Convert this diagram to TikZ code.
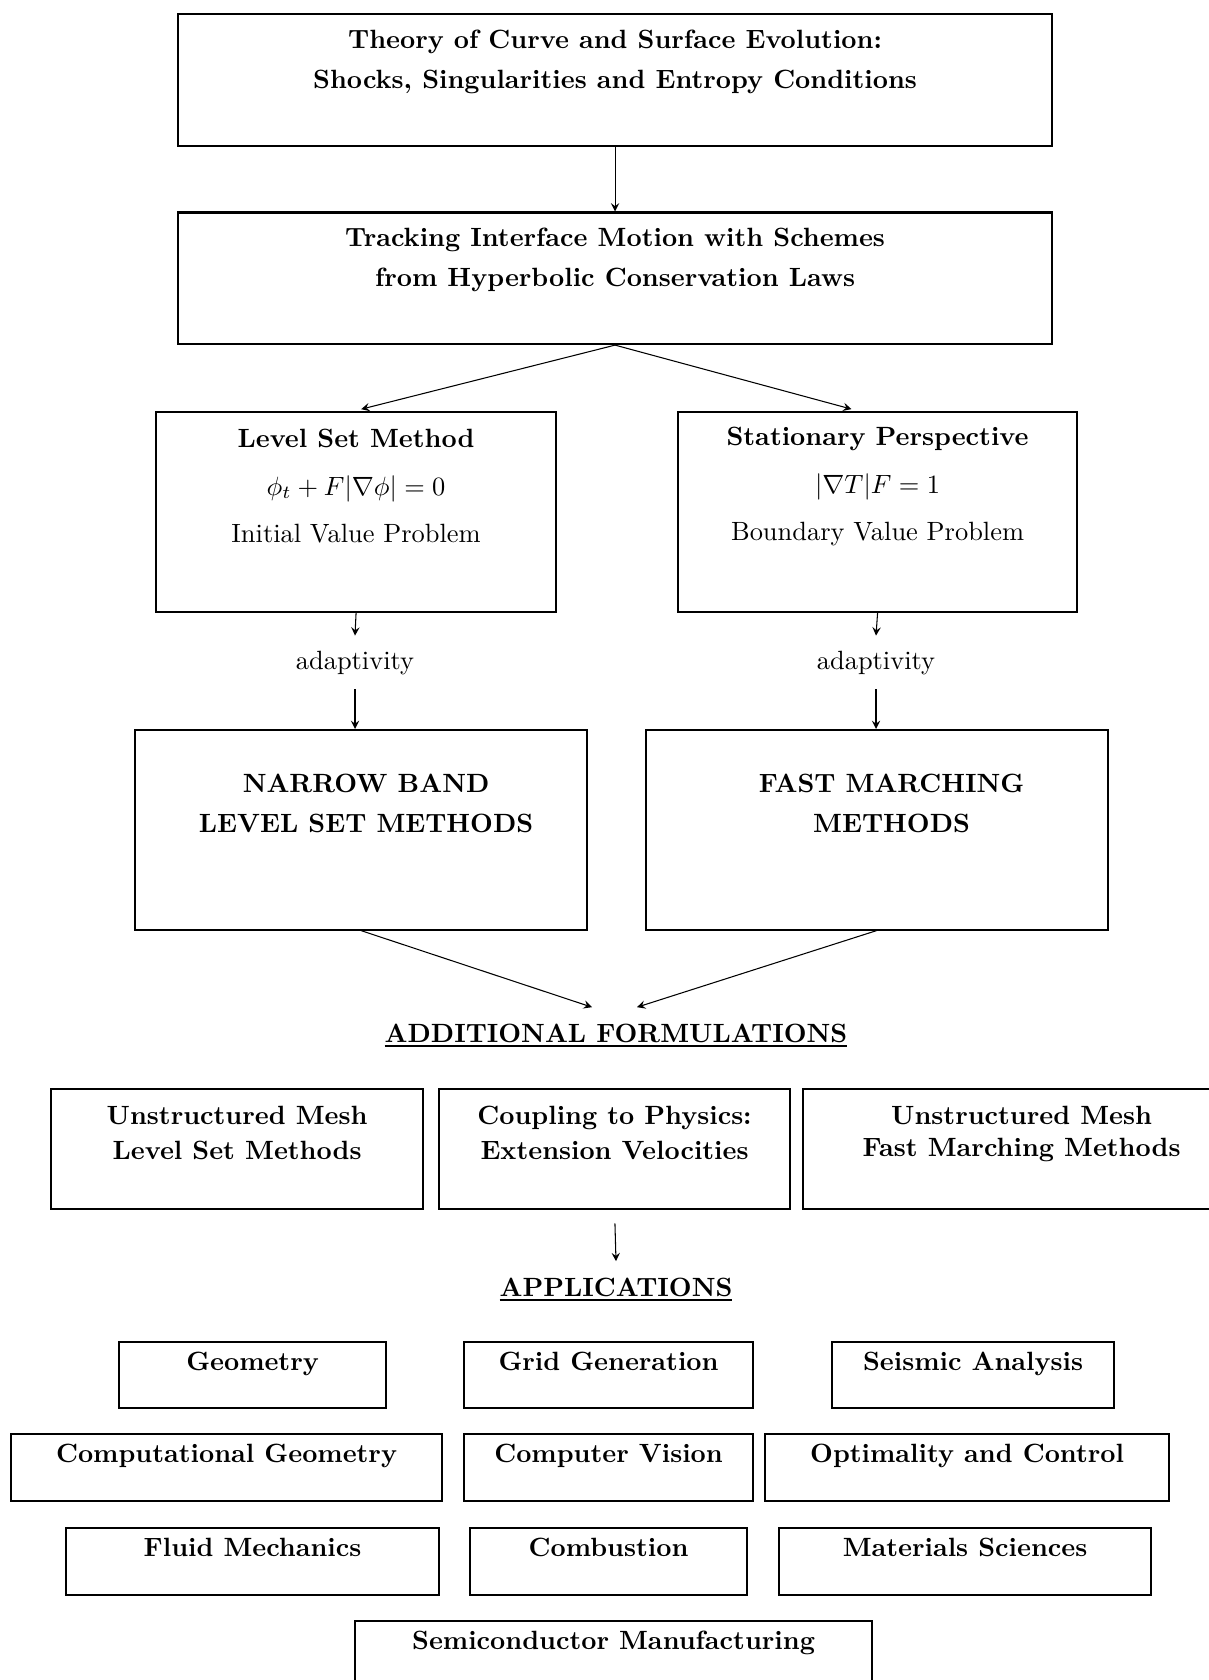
\documentclass[tikz,border=0pt]{standalone}
\usepackage{amssymb}
\usepackage{tikz}
\newlength{\px}
\setlength{\px}{0.0133cm}
\newcommand{\boxtext}[4]{\parbox[t][#2\px][t]{#1\px}{\centering\rule{0pt}{#3}#4}}

\begin{document}
\begin{tikzpicture}[
      x=0.0133cm, y=-0.0133cm,
      blk/.style={draw,line width=0.8pt,anchor=north west,inner sep=0pt,font=\bfseries},
      head/.style={anchor=base,inner ysep=6pt,font=\bfseries},
      adapt/.style={anchor=base,inner ysep=5.5pt},
      flow/.style={thin,->,>=stealth}
      ]
      \useasboundingbox (0,0) rectangle (1209,1680);
      \node[blk] (theory) at (177,13) {\boxtext{874}{132}{13pt}{Theory of Curve and Surface Evolution:\\[3pt] Shocks, Singularities and Entropy Conditions}};
      \node[blk] (track) at (177,211.5) {\boxtext{874}{131.5}{13pt}{Tracking Interface Motion with Schemes\\[3pt] from Hyperbolic Conservation Laws}};
      \node[blk] (lsm) at (155,410.5) {\boxtext{400}{200.5}{13.6pt}{Level Set Method\\[6pt] \mdseries $\phi_t+F|\nabla\phi|=0$\\[6pt] \mdseries Initial Value Problem}};
      \node[blk] (sp) at (677,410.5) {\boxtext{399}{200.5}{13pt}{Stationary Perspective\\[6pt] \mdseries $|\nabla T|F=1$\\[6pt] \mdseries Boundary Value Problem}};
      \node[adapt] (ad1) at (355,669) {adaptivity};
      \node[adapt] (ad2) at (876,669) {adaptivity};
      \node[blk] (nb) at (134,729) {\boxtext{452}{199.5}{23.8pt}{\hspace*{10\px}NARROW BAND\\[3pt] \hspace*{10\px}LEVEL SET METHODS}};
      \node[blk] (fm) at (644.5,729) {\boxtext{462}{199.5}{23.8pt}{\hspace*{30\px}FAST MARCHING\\[3pt] \hspace*{30\px}METHODS}};
      \node[head] (addl) at (616,1042) {\underline{ADDITIONAL FORMULATIONS}};
      \node[blk] (um1) at (50,1088) {\boxtext{372}{120}{13.6pt}{Unstructured Mesh\\[1pt] Level Set Methods}};
      \node[blk] (coup) at (438,1088) {\boxtext{351}{120}{13.6pt}{Coupling to Physics:\\[1pt] Extension Velocities}};
      \node[blk] (um2) at (802,1088) {\boxtext{437}{120}{13.6pt}{Unstructured Mesh\\ Fast Marching Methods}};
      \node[head] (apps) at (616,1296) {\underline{APPLICATIONS}};
      \node[blk] (geo) at (118,1341) {\boxtext{267}{66}{10.7pt}{Geometry}};
      \node[blk] (grid) at (463,1341) {\boxtext{289}{66}{10.7pt}{Grid Generation}};
      \node[blk] (seis) at (831,1341) {\boxtext{282}{66}{10.7pt}{Seismic Analysis}};
      \node[blk] (cg) at (10,1433) {\boxtext{431}{67}{10.7pt}{Computational Geometry}};
      \node[blk] (cv) at (463,1433) {\boxtext{289}{67}{10.7pt}{Computer Vision}};
      \node[blk] (opt) at (764,1433) {\boxtext{404}{67}{10.7pt}{Optimality and Control}};
      \node[blk] (fluid) at (65,1527) {\boxtext{373}{67}{10.7pt}{Fluid Mechanics}};
      \node[blk] (comb) at (469,1527) {\boxtext{277}{67}{10.7pt}{Combustion}};
      \node[blk] (mat) at (778,1527) {\boxtext{372}{67}{10.7pt}{Materials Sciences}};
      \node[blk] (semi) at (354,1620) {\boxtext{517}{66}{10.7pt}{Semiconductor Manufacturing}};
      \draw[flow] (theory.south) -- (track.north);
      \draw[flow,shorten >=2pt] (track.south) -- (lsm.north);
      \draw[flow,shorten >=2pt] (track.south) -- ([xshift=-21\px]sp.north);
      \draw[flow] (lsm.south) -- (ad1.north);
      \draw[flow] (sp.south) -- (ad2.north);
      \draw[flow] (ad1.south) -- (ad1.south |- nb.north);
      \draw[flow] (ad2.south) -- (ad2.south |- fm.north);
      \draw[flow] (nb.south) -- ([xshift=-24\px]addl.north);
      \draw[flow] (fm.south) -- ([xshift=21\px]addl.north);
      \draw[flow,shorten <=5pt] (coup.south) -- (apps.north);
    \end{tikzpicture}
\end{document}
